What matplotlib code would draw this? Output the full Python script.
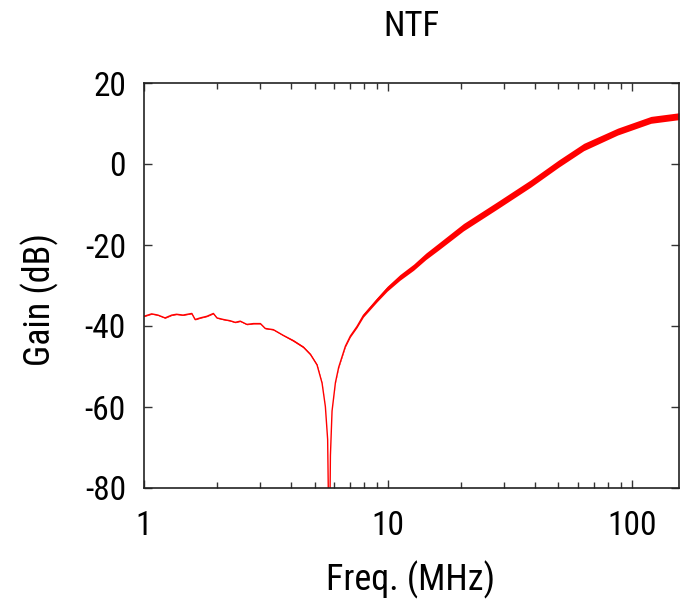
import matplotlib
matplotlib.use("Agg")
import matplotlib.pyplot as plt
from matplotlib import font_manager
from matplotlib.ticker import FixedLocator, FixedFormatter, LogLocator, NullFormatter
import numpy as np

# Data
freq_mhz = [1.0, 1.075, 1.14, 1.22, 1.30, 1.36, 1.445, 1.57, 1.62, 1.70, 1.81, 1.925, 1.99,
            2.12, 2.255, 2.365, 2.48, 2.64, 2.81, 3.0, 3.14, 3.39, 3.72, 4.09, 4.50, 4.81,
            5.12, 5.37, 5.54, 5.66, 5.75, 5.81, 5.90, 6.09, 6.28, 6.69, 7.01, 7.47, 7.93,
            9.03, 9.93, 11.2, 12.73, 14.3, 16.12, 20.4, 28.1, 38.5, 50.1, 63.5, 87.4, 119.7, 156.0]
gain_db = [-37.6, -37.0, -37.3, -38.0, -37.3, -37.1, -37.3, -36.9, -38.4, -38.0, -37.6, -36.9, -38.0,
           -38.4, -38.7, -39.1, -38.8, -39.6, -39.4, -39.4, -40.6, -40.9, -42.3, -43.6, -45.2, -47.0,
           -49.6, -54.1, -59.9, -68.0, -100.0, -72.0, -61.0, -54.0, -50.2, -45.0, -42.5, -40.1, -37.4,
           -33.5, -30.8, -28.0, -25.5, -22.8, -20.4, -15.6, -10.2, -4.8, 0.1, 4.2, 8.0, 10.9, 11.8]
# half-width of the noisy band around the curve (dB)
noise_db = [0.1, 0.1, 0.1, 0.1, 0.1, 0.1, 0.1, 0.1, 0.1, 0.1, 0.1, 0.1, 0.1,
            0.1, 0.1, 0.1, 0.1, 0.1, 0.1, 0.1, 0.1, 0.1, 0.1, 0.2, 0.2, 0.2,
            0.2, 0.1, 0.0, 0.0, 0.0, 0.0, 0.0, 0.1, 0.15, 0.2, 0.25, 0.3, 0.4,
            0.5, 0.6, 0.7, 0.75, 0.8, 0.85, 0.9, 0.9, 0.9, 0.9, 0.9, 0.85, 0.85, 0.85]

x_ticks = [1, 10, 100]
x_tick_labels = ["1", "10", "100"]
y_ticks = [-80, -60, -40, -20, 0, 20]
y_tick_labels = ["-80", "-60", "-40", "-20", "0", "20"]
title = "NTF"
x_label = "Freq. (MHz)"
y_label = "Gain (dB)"

names = {f.name for f in font_manager.fontManager.ttflist}
fam = ["Roboto Condensed", "Liberation Sans", "DejaVu Sans"]
fam = [f for f in fam if f in names] or ["DejaVu Sans"]
plt.rcParams["font.family"] = fam

W, H = 684, 603
fig = plt.figure(figsize=(W / 100, H / 100), dpi=100)
L, R, T, B = 144, 679, 83, 488
ax = fig.add_axes([L / W, 1 - B / H, (R - L) / W, (B - T) / H])

f = np.array(freq_mhz)
g = np.array(gain_db)
n = np.array(noise_db)
ax.fill_between(f, g - n, g + n, color="#ff0000", lw=0)
ax.plot(f, g, color="#ff0000", lw=1.0)

ax.set_xscale("log")
ax.set_xlim(1, 156)
ax.set_ylim(-80, 20)

ax.xaxis.set_major_locator(FixedLocator(x_ticks))
ax.xaxis.set_major_formatter(FixedFormatter(x_tick_labels))
ax.xaxis.set_minor_locator(LogLocator(base=10, subs=np.arange(2, 10)))
ax.xaxis.set_minor_formatter(NullFormatter())
ax.yaxis.set_major_locator(FixedLocator(y_ticks))
ax.yaxis.set_major_formatter(FixedFormatter(y_tick_labels))

ax.tick_params(which="both", direction="in", top=True, right=True, colors="#333333",
               labelcolor="black", labelsize=24)
ax.tick_params(which="major", length=6, width=1.0)
ax.tick_params(which="minor", length=4, width=1.0)
ax.tick_params(axis="x", which="major", pad=16)
ax.tick_params(axis="y", which="major", pad=13)
for s in ax.spines.values():
    s.set_linewidth(1.2)
    s.set_color("#222222")

fig.text(411 / W, 1 - 26 / H, title, ha="center", va="center", fontsize=25)
fig.text(411 / W, 1 - 580 / H, x_label, ha="center", va="center", fontsize=26)
fig.text(40 / W, 1 - 300 / H, y_label, ha="center", va="center", fontsize=26, rotation=90)

fig.savefig("out.png", dpi=100)
